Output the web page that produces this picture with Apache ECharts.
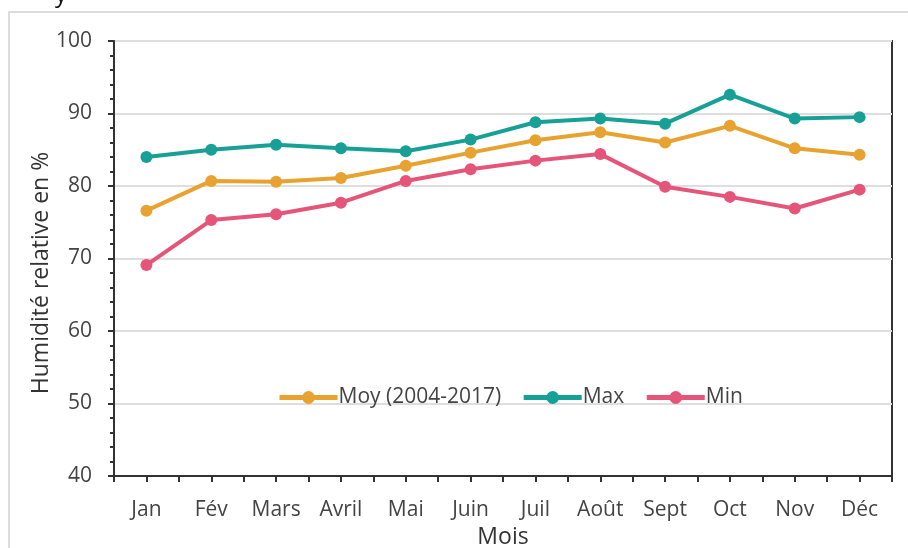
<!DOCTYPE html>
<html>
<head>
<meta charset="utf-8">
<script src="https://cdn.jsdelivr.net/npm/echarts@6/dist/echarts.min.js"></script>
<style>
html,body{margin:0;padding:0;background:#fff;}
#chart{width:908px;height:548px;}
</style>
</head>
<body>
<div id="chart"></div>
<script>
const months = ['Jan','Fév','Mars','Avril','Mai','Juin','Juil','Août','Sept','Oct','Nov','Déc'];
const moyValues = [76.6, 80.7, 80.6, 81.1, 82.8, 84.6, 86.3, 87.4, 86.0, 88.3, 85.2, 84.3];
const maxValues = [84.0, 85.0, 85.7, 85.2, 84.8, 86.4, 88.8, 89.3, 88.6, 92.6, 89.3, 89.5];
const minValues = [69.1, 75.3, 76.1, 77.7, 80.7, 82.3, 83.5, 84.4, 79.9, 78.5, 76.9, 79.5];
const seriesNames = ['Moy (2004-2017)', 'Max', 'Min'];
const seriesColors = ['#E8A22F', '#17A096', '#E5557A'];
const yTicks = [40, 50, 60, 70, 80, 90, 100];

const FONT = '"Open Sans", sans-serif';
const chart = echarts.init(document.getElementById('chart'), null, {renderer: 'canvas'});

function mkSeries(name, data, color) {
  return {
    name: name, type: 'line', data: data, xAxisIndex: 0, yAxisIndex: 0,
    symbol: 'circle', symbolSize: 12,
    lineStyle: {width: 4, color: color},
    itemStyle: {color: color},
    z: 5
  };
}

chart.setOption({
  animation: false,
  backgroundColor: '#fff',
  textStyle: {fontFamily: FONT},
  graphic: [
    {type: 'rect', z: -10, shape: {x: 9, y: 12, width: 1200, height: 1200},
     style: {fill: 'none', stroke: '#dcdcdc', lineWidth: 2}},
    {type: 'text', left: 55, top: -17, style: {text: 'y', font: '24px ' + FONT, fill: '#111'}},
    {type: 'text', x: 41, y: 273, rotation: Math.PI / 2, z: 10,
     style: {text: 'Humidité relative en %', font: '23px ' + FONT, fill: '#333',
             align: 'center', verticalAlign: 'middle'}}
  ],
  legend: {
    data: seriesNames,
    left: 272, top: 382,
    itemWidth: 58, itemHeight: 16, itemGap: 20,
    lineStyle: {width: 5},
    textStyle: {fontFamily: FONT, fontSize: 21, color: '#444', padding: [0, 0, 0, -4]}
  },
  grid: {left: 114, right: 16, top: 41, bottom: 72, show: true,
         borderColor: '#333', borderWidth: 2, containLabel: false, outerBoundsMode: 'none'},
  xAxis: [
    {
      type: 'category', data: months, boundaryGap: true,
      name: 'Mois', nameLocation: 'middle', nameGap: 48,
      nameTextStyle: {fontFamily: FONT, fontSize: 23, color: '#333'},
      axisLine: {lineStyle: {color: '#333', width: 2}},
      axisTick: {show: false},
      axisLabel: {margin: 24, fontFamily: FONT, fontSize: 21, color: '#444', interval: 0},
      splitLine: {show: false}
    },
    {
      type: 'value', min: 0, max: 24, interval: 1, position: 'bottom',
      axisLine: {show: false},
      axisTick: {show: true, length: 6, lineStyle: {color: '#333', width: 2}},
      axisLabel: {show: false},
      splitLine: {show: false}
    }
  ],
  yAxis: {
    type: 'value', min: 40, max: 100, interval: 10,
    axisLine: {show: true, lineStyle: {color: '#333', width: 2}},
    axisTick: {show: true, length: 6, lineStyle: {color: '#333', width: 2}},
    minorTick: {show: true, splitNumber: 5, length: 4, lineStyle: {color: '#333', width: 2}},
    axisLabel: {margin: 22, fontFamily: FONT, fontSize: 21, color: '#444',
      formatter: function (v) { return yTicks.indexOf(v) >= 0 ? String(v) : ''; }},
    splitLine: {show: true, lineStyle: {color: '#dedede', width: 2}}
  },
  series: [
    mkSeries(seriesNames[0], moyValues, seriesColors[0]),
    mkSeries(seriesNames[1], maxValues, seriesColors[1]),
    mkSeries(seriesNames[2], minValues, seriesColors[2])
  ]
});
</script>
</body>
</html>
